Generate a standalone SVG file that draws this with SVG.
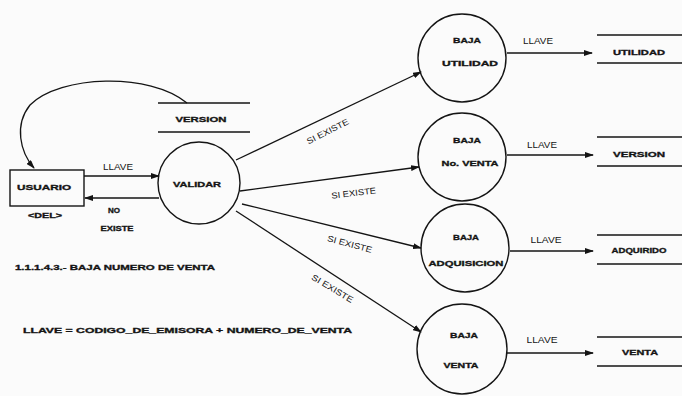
<svg xmlns="http://www.w3.org/2000/svg" width="682" height="396" viewBox="0 0 682 396">
  <style>
    .t { font-family: "Liberation Sans", Arial, sans-serif; font-weight: bold; font-size: 8px; fill: #141414; stroke: #141414; stroke-width: 0.35; }
    .tl { font-family: "Liberation Sans", Arial, sans-serif; font-size: 8.5px; fill: #141414; }
    .c { text-anchor: middle; }
    .ln { stroke: #141414; stroke-width: 1.3; fill: none; }
    .nd { stroke: #141414; stroke-width: 1.4; fill: none; }
  </style>
  <defs>
    <marker id="arr" markerWidth="9" markerHeight="6" refX="8" refY="3" orient="auto" markerUnits="userSpaceOnUse">
      <path d="M0,0 L9,3 L0,6 z" fill="#141414"/>
    </marker>
  </defs>
  <rect width="682" height="396" fill="#fbfbfb"/>

  <!-- processes -->
  <g id="usuario">
    <rect class="nd" x="10" y="170" width="74" height="36"/>
    <text class="t c" x="44" y="190" textLength="54" lengthAdjust="spacingAndGlyphs">USUARIO</text>
    <text class="t c" x="45" y="218" textLength="34" lengthAdjust="spacingAndGlyphs">&lt;DEL&gt;</text>
  </g>
  <g id="validar">
    <circle class="nd" cx="199" cy="183" r="41"/>
    <text class="t c" x="197" y="187" textLength="48" lengthAdjust="spacingAndGlyphs">VALIDAR</text>
  </g>
  <g id="version-store">
    <line class="ln" x1="158" y1="103" x2="250" y2="103"/>
    <line class="ln" x1="158" y1="132" x2="250" y2="132"/>
    <text class="t c" x="201" y="122" textLength="51" lengthAdjust="spacingAndGlyphs">VERSION</text>
  </g>
  <g id="baja-utilidad">
    <circle class="nd" cx="462" cy="58" r="44"/>
    <text class="t c" x="467" y="43" textLength="28" lengthAdjust="spacingAndGlyphs">BAJA</text>
    <text class="t c" x="470" y="66" textLength="56" lengthAdjust="spacingAndGlyphs">UTILIDAD</text>
  </g>
  <g id="baja-no-venta">
    <circle class="nd" cx="462" cy="157" r="44"/>
    <text class="t c" x="467" y="143" textLength="28" lengthAdjust="spacingAndGlyphs">BAJA</text>
    <text class="t c" x="470" y="166" textLength="57" lengthAdjust="spacingAndGlyphs">No. VENTA</text>
  </g>
  <g id="baja-adquisicion">
    <circle class="nd" cx="465" cy="248" r="44"/>
    <text class="t c" x="466" y="240" textLength="26" lengthAdjust="spacingAndGlyphs">BAJA</text>
    <text class="t c" x="466" y="266" textLength="75" lengthAdjust="spacingAndGlyphs">ADQUISICION</text>
  </g>
  <g id="baja-venta">
    <circle class="nd" cx="462" cy="349" r="45"/>
    <text class="t c" x="464" y="338" textLength="28" lengthAdjust="spacingAndGlyphs">BAJA</text>
    <text class="t c" x="461" y="368" textLength="35" lengthAdjust="spacingAndGlyphs">VENTA</text>
  </g>

  <!-- data stores -->
  <g id="utilidad-store">
    <line class="ln" x1="597" y1="35" x2="682" y2="35"/>
    <line class="ln" x1="597" y1="63" x2="682" y2="63"/>
    <text class="t c" x="639" y="55" textLength="52" lengthAdjust="spacingAndGlyphs">UTILIDAD</text>
  </g>
  <g id="version-store-2">
    <line class="ln" x1="597" y1="137" x2="682" y2="137"/>
    <line class="ln" x1="597" y1="166" x2="682" y2="166"/>
    <text class="t c" x="639" y="157" textLength="52" lengthAdjust="spacingAndGlyphs">VERSION</text>
  </g>
  <g id="adquirido-store">
    <line class="ln" x1="597" y1="235" x2="682" y2="235"/>
    <line class="ln" x1="597" y1="264" x2="682" y2="264"/>
    <text class="t c" x="639" y="253" textLength="55" lengthAdjust="spacingAndGlyphs">ADQUIRIDO</text>
  </g>
  <g id="venta-store">
    <line class="ln" x1="597" y1="337" x2="682" y2="337"/>
    <line class="ln" x1="597" y1="366" x2="682" y2="366"/>
    <text class="t c" x="640" y="355" textLength="36" lengthAdjust="spacingAndGlyphs">VENTA</text>
  </g>

  <!-- connectors -->
  <g id="connectors">
    <path class="ln" d="M187,103 C150,72 60,75 30,105 C14,125 20,152 34,168" marker-end="url(#arr)"/>
    <line class="ln" x1="84" y1="176" x2="159" y2="176" marker-end="url(#arr)"/>
    <line class="ln" x1="159" y1="198" x2="85" y2="198" marker-end="url(#arr)"/>
    <line class="ln" x1="236" y1="160" x2="421" y2="72" marker-end="url(#arr)"/>
    <line class="ln" x1="240" y1="191" x2="419" y2="167" marker-end="url(#arr)"/>
    <line class="ln" x1="242" y1="204" x2="421" y2="248" marker-end="url(#arr)"/>
    <line class="ln" x1="236" y1="211" x2="421" y2="332" marker-end="url(#arr)"/>
    <line class="ln" x1="507" y1="53" x2="592" y2="53" marker-end="url(#arr)"/>
    <line class="ln" x1="507" y1="155" x2="593" y2="155" marker-end="url(#arr)"/>
    <line class="ln" x1="510" y1="251" x2="593" y2="251" marker-end="url(#arr)"/>
    <line class="ln" x1="507" y1="353" x2="593" y2="353" marker-end="url(#arr)"/>

    <text class="tl c" x="118" y="170" textLength="30" lengthAdjust="spacingAndGlyphs">LLAVE</text>
    <text class="t c" x="114" y="213" textLength="12" lengthAdjust="spacingAndGlyphs">NO</text>
    <text class="t c" x="117" y="231" textLength="33" lengthAdjust="spacingAndGlyphs">EXISTE</text>
    <text class="tl c" transform="translate(329,134) rotate(-27)" textLength="46" lengthAdjust="spacingAndGlyphs">SI EXISTE</text>
    <text class="tl c" transform="translate(354,196) rotate(-7)" textLength="45" lengthAdjust="spacingAndGlyphs">SI EXISTE</text>
    <text class="tl c" transform="translate(349,247) rotate(15)" textLength="46" lengthAdjust="spacingAndGlyphs">SI EXISTE</text>
    <text class="tl c" transform="translate(331,291) rotate(31)" textLength="47" lengthAdjust="spacingAndGlyphs">SI EXISTE</text>
    <text class="tl c" x="538" y="44" textLength="30" lengthAdjust="spacingAndGlyphs">LLAVE</text>
    <text class="tl c" x="542" y="148" textLength="30" lengthAdjust="spacingAndGlyphs">LLAVE</text>
    <text class="tl c" x="546" y="243" textLength="31" lengthAdjust="spacingAndGlyphs">LLAVE</text>
    <text class="tl c" x="542" y="343" textLength="31" lengthAdjust="spacingAndGlyphs">LLAVE</text>
  </g>

  <!-- captions -->
  <text class="t" x="15" y="270" textLength="200" lengthAdjust="spacingAndGlyphs">1.1.1.4.3.- BAJA NUMERO DE VENTA</text>
  <text class="t" x="23" y="333" textLength="329" lengthAdjust="spacingAndGlyphs">LLAVE = CODIGO_DE_EMISORA + NUMERO_DE_VENTA</text>
</svg>
